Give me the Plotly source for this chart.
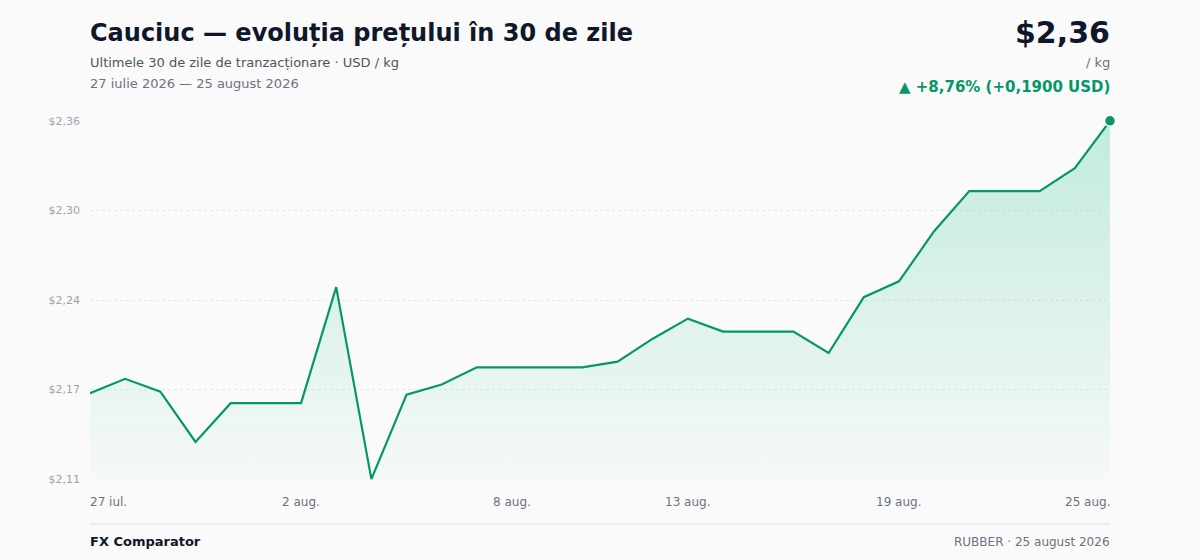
import plotly.graph_objects as go

dates = [
    '2026-07-27', '2026-07-28', '2026-07-29', '2026-07-30', '2026-07-31',
    '2026-08-01', '2026-08-02', '2026-08-03', '2026-08-04', '2026-08-05',
    '2026-08-06', '2026-08-07', '2026-08-08', '2026-08-09', '2026-08-10',
    '2026-08-11', '2026-08-12', '2026-08-13', '2026-08-14', '2026-08-15',
    '2026-08-16', '2026-08-17', '2026-08-18', '2026-08-19', '2026-08-20',
    '2026-08-21', '2026-08-22', '2026-08-23', '2026-08-24', '2026-08-25',
]
prices = [
    2.170, 2.180, 2.171, 2.136, 2.163, 2.163, 2.163, 2.244, 2.110, 2.169,
    2.176, 2.188, 2.188, 2.188, 2.188, 2.192, 2.208, 2.222, 2.213, 2.213,
    2.213, 2.198, 2.237, 2.248, 2.283, 2.311, 2.311, 2.311, 2.327, 2.360,
]

y_ticks = [2.11, 2.1725, 2.235, 2.2975, 2.36]
y_labels = ['$2,11', '$2,17', '$2,24', '$2,30', '$2,36']
x_ticks = ['2026-07-27', '2026-08-02', '2026-08-08', '2026-08-13', '2026-08-19', '2026-08-25']
x_labels = ['27 iul.', '2 aug.', '8 aug.', '13 aug.', '19 aug.', '25 aug.']

GREEN = '#059669'
FONT = 'DejaVu Sans'

fig = go.Figure()

fig.add_trace(go.Scatter(
    x=dates, y=prices, mode='lines',
    line=dict(color=GREEN, width=2.2),
    fill='tozeroy',
    fillgradient=dict(
        type='vertical',
        start=y_ticks[0], stop=y_ticks[-1],
        colorscale=[[0, 'rgba(16,185,129,0.02)'], [1, 'rgba(16,185,129,0.24)']],
    ),
    hoverinfo='skip', showlegend=False,
))

# last point marker
fig.add_trace(go.Scatter(
    x=[dates[-1]], y=[prices[-1]], mode='markers',
    marker=dict(color=GREEN, size=11, line=dict(color='white', width=1.5)),
    cliponaxis=False, hoverinfo='skip', showlegend=False,
))

fig.update_layout(
    width=1200, height=560,
    margin=dict(l=90, r=90, t=120, b=80),
    paper_bgcolor='#fafafa', plot_bgcolor='#fafafa',
    font=dict(family=FONT),
    xaxis=dict(
        range=[dates[0], dates[-1]], showgrid=False, zeroline=False,
        showticklabels=False, showline=False,
    ),
    yaxis=dict(
        range=[2.1094, 2.3606], tickvals=y_ticks, ticktext=y_labels,
        showgrid=True, gridcolor='#e5e7eb', griddash='dot', gridwidth=1,
        zeroline=False, showline=False, ticks='',
        tickfont=dict(size=11, color='#9ca3af'), ticklabelstandoff=9,
    ),
)

# x tick labels (first left-aligned, last right-aligned)
for i, (xv, lab) in enumerate(zip(x_ticks, x_labels)):
    anchor = 'left' if i == 0 else ('right' if i == len(x_ticks) - 1 else 'center')
    shift = {'left': -2, 'right': 2, 'center': 0}[anchor]
    fig.add_annotation(x=xv, y=-0.06, xref='x', yref='paper', text=lab,
                       showarrow=False, xanchor=anchor, yanchor='middle', xshift=shift,
                       font=dict(size=12, color='#6b7280'))

def txt(x, y, text, size, color, anchor='left', bold=False):
    if bold:
        text = '<b>' + text + '</b>'
    fig.add_annotation(x=x, y=y, xref='paper', yref='paper', text=text,
                       showarrow=False, xanchor=anchor, yanchor='middle',
                       xshift=-2 if anchor == 'left' else 2,
                       font=dict(size=size, color=color, family=FONT))

txt(0, 1.2417, 'Cauciuc — evoluția prețului în 30 de zile', 24, '#0f172a', bold=True)
txt(0, 1.161, 'Ultimele 30 de zile de tranzacționare · USD / kg', 13, '#4b5563')
txt(0, 1.10, '27 iulie 2026 — 25 august 2026', 13, '#6b7280')
txt(1, 1.244, '$2,36', 30, '#0f172a', anchor='right', bold=True)
txt(1, 1.161, '/ kg', 13, '#6b7280', anchor='right')
txt(1, 1.091, '▲ +8,76% (+0,1900 USD)', 15, GREEN, anchor='right', bold=True)
txt(0, -0.171, 'FX Comparator', 13, '#0f172a', bold=True)
txt(1, -0.171, 'RUBBER · 25 august 2026', 12, '#6b7280', anchor='right')

fig.add_shape(type='line', xref='paper', yref='paper', x0=0, x1=1,
              y0=-0.1222, y1=-0.1222, line=dict(color='#e5e7eb', width=1.5))

# drop the default page margin so the figure sits at the window corner
fig.write_html('out.html', config={'displayModeBar': False},
               post_script="document.body.style.margin='0';")
